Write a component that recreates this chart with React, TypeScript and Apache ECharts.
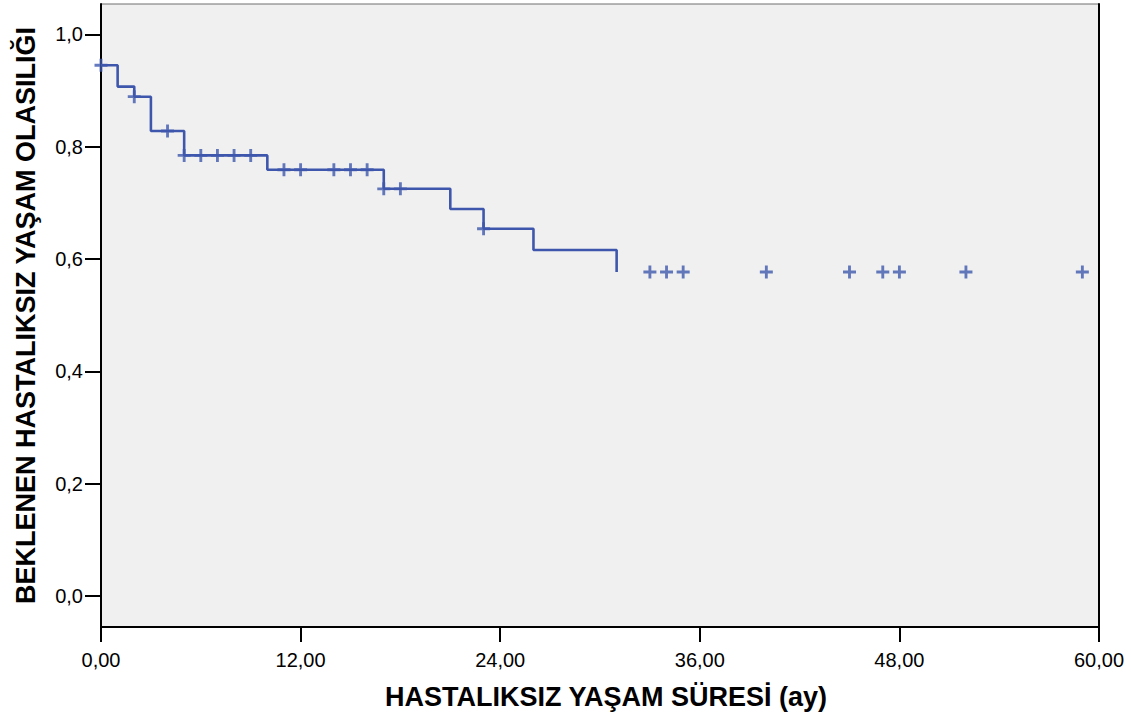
import React, { useEffect, useRef } from "react";
import * as echarts from "echarts";

// Kaplan–Meier step curve: event times (months) and survival level after each step
const stepTimes = [0, 1, 2, 3, 5, 10, 17, 21, 23, 26, 31];
const stepSurvival = [0.945, 0.907, 0.889, 0.828, 0.7845, 0.759, 0.725, 0.689, 0.654, 0.616, 0.577];

// Censored observations (months)
const censorTimes = [0, 2, 4, 5, 6, 7, 8, 9, 11, 12, 14, 15, 16, 17, 18, 23, 33, 34, 35, 40, 45, 47, 48, 52, 59];

const xTicks = [0, 12, 24, 36, 48, 60];
const yTicks = [0, 0.2, 0.4, 0.6, 0.8, 1.0];

const xTitle = "HASTALIKSIZ YAŞAM SÜRESİ (ay)";
const yTitle = "BEKLENEN HASTALIKSIZ YAŞAM OLASILIĞI";

const lineColor = "#3e57ad";
const font = "'Liberation Sans', Arial, Helvetica, sans-serif";

// survival level in effect at time t (last step at or before t)
function survivalAt(t: number): number {
  let s = stepSurvival[0];
  for (let i = 0; i < stepTimes.length; i++) {
    if (stepTimes[i] <= t) s = stepSurvival[i];
  }
  return s;
}

// censor mark: a plus sign
const plusSymbol = "path://M3.9,0H6.1V3.9H10V6.1H6.1V10H3.9V6.1H0V3.9H3.9Z";

export default function App() {
  const ref = useRef<HTMLDivElement>(null);

  useEffect(() => {
    if (!ref.current) return;
    const chart = echarts.init(ref.current, undefined, { renderer: "svg" });

    const stepData = stepTimes.map((t, i) => [t, stepSurvival[i]]);
    const censorData = censorTimes.map((t) => [t, survivalAt(t)]);

    chart.setOption({
      animation: false,
      backgroundColor: "#ffffff",
      textStyle: { fontFamily: font },
      grid: {
        left: 101,
        right: 32,
        top: 4,
        bottom: 97,
        show: true,
        backgroundColor: "#f0f0f0",
        borderColor: "#6e6e6e",
        borderWidth: 1,
      },
      xAxis: {
        type: "value",
        min: 0,
        max: 60,
        interval: 12,
        name: xTitle,
        nameLocation: "middle",
        nameGap: 56,
        nameTextStyle: {
          fontFamily: font,
          fontSize: 27,
          fontWeight: "bold",
          color: "#000",
          padding: [0, 0, 0, 12],
        },
        splitLine: { show: false },
        axisLine: { show: true, onZero: false, lineStyle: { color: "#000", width: 2 } },
        axisTick: { show: true, length: 15, lineStyle: { color: "#000", width: 2 }, customValues: xTicks },
        axisLabel: {
          fontFamily: font,
          fontSize: 20,
          color: "#000",
          margin: 23,
          customValues: xTicks,
          formatter: (v: number) => v.toFixed(2).replace(".", ","),
        },
      },
      yAxis: [
        {
          type: "value",
          min: -0.055,
          max: 1.054,
          name: yTitle,
          nameLocation: "middle",
          nameGap: 62,
          nameTextStyle: {
            fontFamily: font,
            fontSize: 27,
            fontWeight: "bold",
            color: "#000",
          },
          splitLine: { show: false },
          axisLine: { show: true, onZero: false, lineStyle: { color: "#000", width: 2 } },
          axisTick: { show: true, length: 16, lineStyle: { color: "#000", width: 2 }, customValues: yTicks },
          axisLabel: {
            fontFamily: font,
            fontSize: 20,
            color: "#000",
            margin: 18,
            customValues: yTicks,
            formatter: (v: number) => v.toFixed(1).replace(".", ","),
          },
        },
        {
          type: "value",
          position: "right",
          min: -0.055,
          max: 1.054,
          splitLine: { show: false },
          axisLine: { show: true, onZero: false, lineStyle: { color: "#000", width: 2 } },
          axisTick: { show: false },
          axisLabel: { show: false },
        },
      ],
      series: [
        {
          type: "line",
          step: "end",
          data: stepData,
          showSymbol: false,
          symbol: "none",
          lineStyle: { color: lineColor, width: 2.6 },
          z: 3,
        },
        {
          type: "scatter",
          data: censorData,
          symbol: plusSymbol,
          symbolSize: 13,
          itemStyle: { color: lineColor },
          z: 4,
        },
      ],
    });

    return () => chart.dispose();
  }, []);

  return (
    <div
      ref={ref}
      style={{ position: "fixed", left: 0, top: 0, width: 1131, height: 724 }}
    />
  );
}
